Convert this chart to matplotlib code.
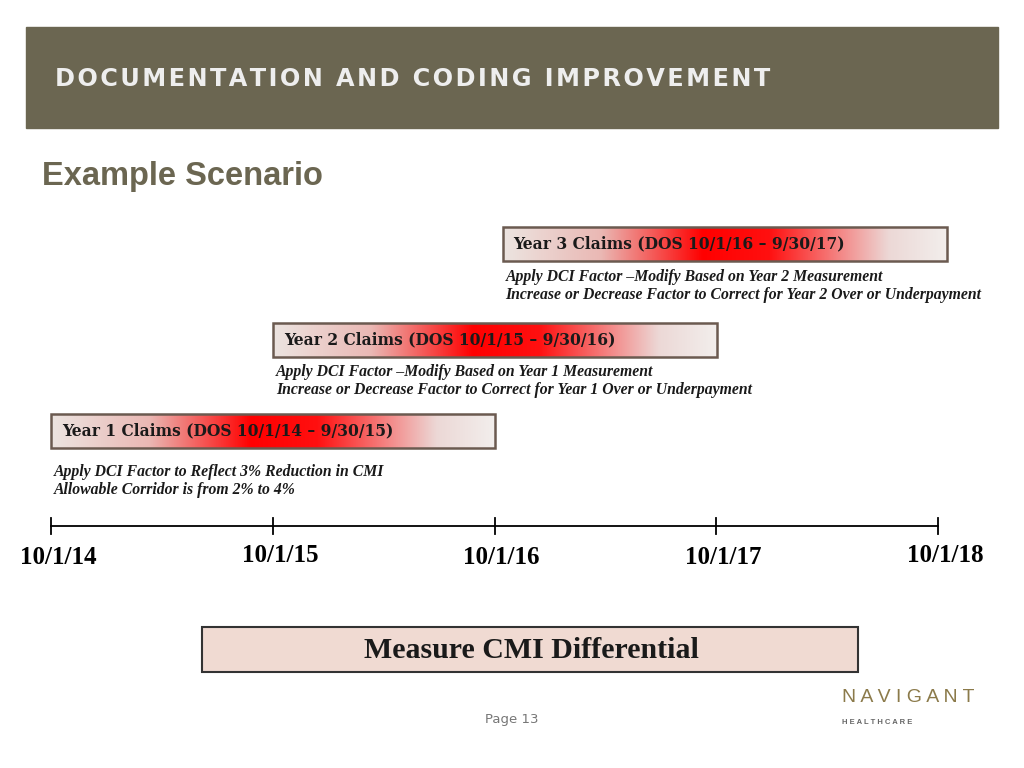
import matplotlib.pyplot as plt
import numpy as np
from matplotlib.colors import LinearSegmentedColormap
from matplotlib.patches import Rectangle

# timeline data
years = [2014, 2015, 2016, 2017, 2018]
year_labels = ['10/1/14', '10/1/15', '10/1/16', '10/1/17', '10/1/18']
label_raise = [0, 3, 0, 0, 3]
claims = ['Year 1 Claims (DOS 10/1/14 \u2013 9/30/15)',
          'Year 2 Claims (DOS 10/1/15 \u2013 9/30/16)',
          'Year 3 Claims (DOS 10/1/16 \u2013 9/30/17)']
claim_start = [2014, 2015, 2016]
notes = [['Apply DCI Factor to Reflect 3% Reduction in CMI',
          'Allowable Corridor is from 2% to 4%'],
         ['Apply DCI Factor \u2013Modify Based on Year 1 Measurement',
          'Increase or Decrease Factor to Correct for Year 1 Over or Underpayment'],
         ['Apply DCI Factor \u2013Modify Based on Year 2 Measurement',
          'Increase or Decrease Factor to Correct for Year 2 Over or Underpayment']]

x0, pxyr = 51, 221.75
def X(y):
    return x0 + (y - 2014) * pxyr

fig = plt.figure(figsize=(10.24, 7.68), dpi=100)
ax = fig.add_axes([0, 0, 1, 1])
ax.set_xlim(0, 1024)
ax.set_ylim(768, 0)
ax.axis('off')

# header
ax.add_patch(Rectangle((26, 27), 972, 101, color='#6b6651', zorder=1))
title = 'DOCUMENTATION AND CODING IMPROVEMENT'
ax.text(55, 79, '\u200a'.join(title), color='#eeeeee',
        fontsize=17.3, fontweight='bold', fontfamily='DejaVu Sans Condensed', va='center')
ax.text(42, 176, 'Example Scenario', color='#6b6651', fontsize=23.5,
        fontweight='bold', fontfamily='Liberation Sans', va='center')

cmap = LinearSegmentedColormap.from_list('g', [(0, '#ece4e0'), (0.22, '#eab8b4'),
                                               (0.45, '#ff0000'), (0.6, '#ff1010'),
                                               (0.87, '#ecd8d6'), (1, '#f2eeec')])
grad = np.linspace(0, 1, 256)[None, :]
bar_y = [414, 323, 227]
note_y = [472, 372, 277]
for i in range(3):
    left = X(claim_start[i]) + (8 if i == 2 else 0)
    w = 444
    ax.imshow(grad, cmap=cmap, aspect='auto', extent=(left, left + w, bar_y[i] + 34, bar_y[i]), zorder=2)
    ax.add_patch(Rectangle((left, bar_y[i]), w, 34, fill=False, ec='#6b5a50', lw=1.8, zorder=3))
    ax.text(left + 11, bar_y[i] + 17, claims[i], fontsize=11.2, fontweight='bold',
            fontfamily='DejaVu Serif', va='center', color='#1a1a1a', zorder=4)
    for j, line in enumerate(notes[i]):
        ax.text(left + 3, note_y[i] + j * 18, line, fontsize=11.3, fontstyle='italic',
                fontweight='bold', fontfamily='Liberation Serif', va='center', color='#1a1a1a')

# timeline
ax.plot([X(years[0]), X(years[-1])], [526, 526], color='black', lw=1.3)
for k, yr in enumerate(years):
    ax.plot([X(yr), X(yr)], [518, 534], color='black', lw=1.3)
    ax.text(X(yr) + 7, 558 - label_raise[k], year_labels[k], fontsize=18, fontweight='bold',
            fontfamily='Liberation Serif', ha='center', va='center')

# measure box
ax.add_patch(Rectangle((202, 627), 656, 45, fc='#f0dad2', ec='#333333', lw=1.5))
ax.text(531, 650, 'Measure CMI Differential', fontsize=21.5, fontweight='bold',
        fontfamily='Liberation Serif', ha='center', va='center', color='#1a1a1a')

ax.text(512, 720, 'Page 13', fontsize=9.5, color='#777777', fontfamily='DejaVu Sans Condensed',
        ha='center', va='center')
ax.text(908, 697, 'N A V I G A N T', fontsize=14, color='#8b7a4a', fontfamily='Liberation Sans',
        ha='center', va='center')
ax.text(877, 722, 'H E A L T H C A R E', fontsize=5.5, color='#666666', fontweight='bold',
        fontfamily='Liberation Sans', ha='center', va='center')

fig.savefig('out.png', dpi=100)
